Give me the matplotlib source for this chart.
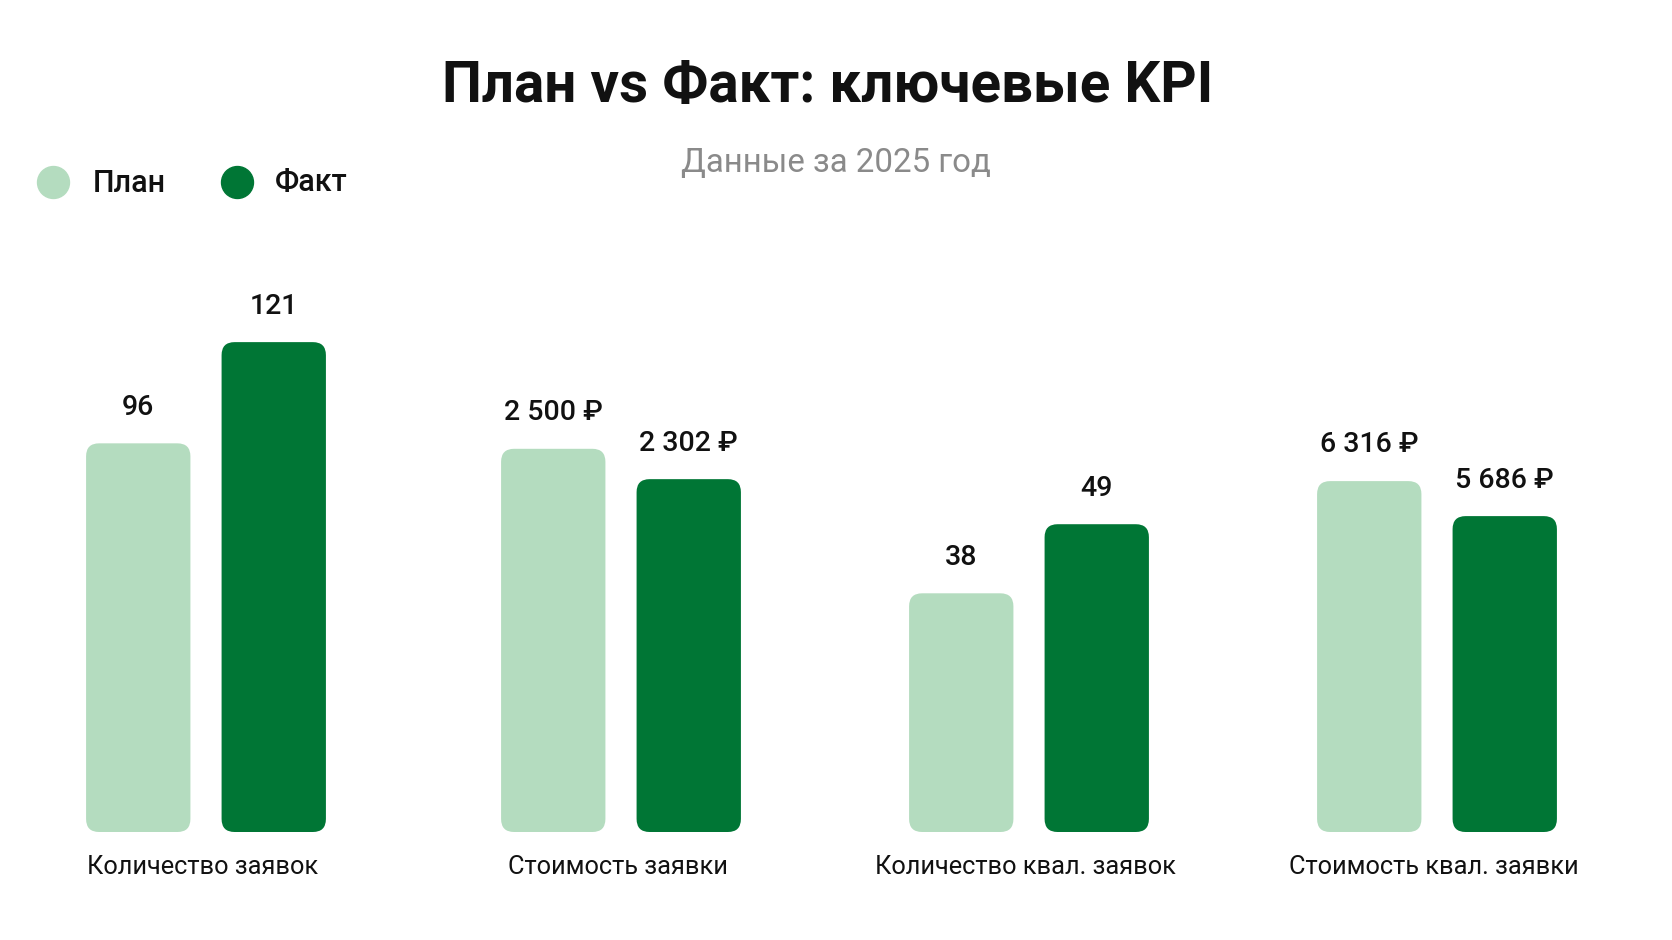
import matplotlib
matplotlib.use('Agg')
import matplotlib.pyplot as plt
from matplotlib.patches import FancyBboxPatch
from matplotlib.lines import Line2D

plt.rcParams['font.family'] = ['Roboto', 'DejaVu Sans']

categories = ['Количество заявок', 'Стоимость заявки', 'Количество квал. заявок', 'Стоимость квал. заявки']
plan = [96, 2500, 38, 6316]
fact = [121, 2302, 49, 5686]
plan_labels = ['96', '2 500 ₽', '38', '6 316 ₽']
fact_labels = ['121', '2 302 ₽', '49', '5 686 ₽']
series_names = ['План', 'Факт']

PLAN_C = '#b4dcbf'
FACT_C = '#007635'

W, H = 1672, 940
fig = plt.figure(figsize=(W / 100, H / 100), dpi=100)
fig.patch.set_facecolor('white')

# each KPI has its own scale -> one axes per group
centers_px = [206, 621, 1029, 1437]
ymax = [123.5, 3262, 79.6, 9000]
step_px = 135.5
ax_w_px = 390
bottom_px, ax_h_px = 832, 500
radius_px = 13

for i, cat in enumerate(categories):
    left = (centers_px[i] - ax_w_px / 2) / W
    ax = fig.add_axes([left, 1 - bottom_px / H, ax_w_px / W, ax_h_px / H])
    half = ax_w_px / step_px / 2
    ax.set_xlim(0.5 - half, 0.5 + half)
    ax.set_ylim(0, ymax[i])
    ax.axis('off')

    bars = ax.bar([0, 1], [plan[i], fact[i]], width=0.77, color=[PLAN_C, FACT_C])
    aspect = (ymax[i] / ax_h_px) * step_px
    for b in bars:
        x, y, w, h = b.get_x(), b.get_y(), b.get_width(), b.get_height()
        b.remove()
        ax.add_patch(FancyBboxPatch((x, y), w, h,
                                    boxstyle=f'round,pad=0,rounding_size={radius_px / step_px}',
                                    mutation_aspect=aspect, facecolor=b.get_facecolor(),
                                    edgecolor='none'))

    for x, v, lab in zip([0, 1], [plan[i], fact[i]], [plan_labels[i], fact_labels[i]]):
        ax.annotate(lab, xy=(x, v), xytext=(0, 26), textcoords='offset points',
                    ha='center', va='center', fontsize=20.5, fontweight='medium',
                    color='#111111')

    fig.text(centers_px[i] / W - 0.002, 1 - 867 / H, cat, ha='center', va='center',
             fontsize=18.3, color='#111111')

fig.text(0.495, 1 - 86 / H, 'План vs Факт: ключевые KPI', ha='center', va='center',
         fontsize=40.7, fontweight='bold', color='#111111')
fig.text(0.5, 1 - 163 / H, 'Данные за 2025 год', ha='center', va='center',
         fontsize=23.8, color='#8a8a8a')

# legend
for mx, tx, name, c in zip([53, 237], [93, 275], series_names, [PLAN_C, FACT_C]):
    fig.add_artist(Line2D([mx / W], [1 - 182 / H], marker='o', markersize=23,
                          color=c, linestyle='none', transform=fig.transFigure))
    fig.text(tx / W, 1 - 183 / H, name, ha='left', va='center', fontsize=22,
             fontweight='medium', color='#111111')

fig.savefig('out.png', dpi=100, facecolor='white')
